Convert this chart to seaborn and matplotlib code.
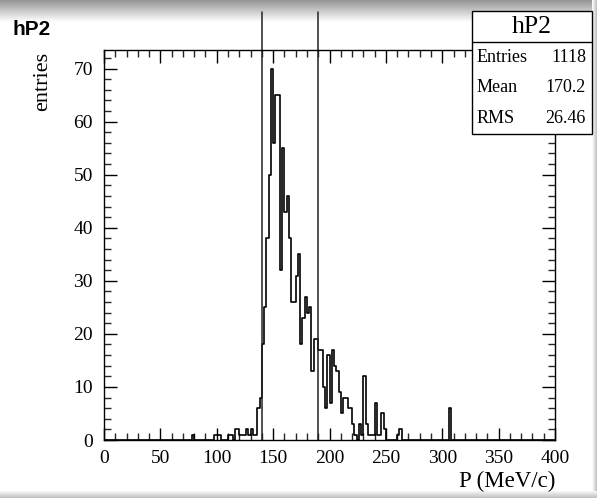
import numpy as np
import pandas as pd
import matplotlib
matplotlib.use("Agg")
import matplotlib.pyplot as plt
from matplotlib.patches import Rectangle
from matplotlib.lines import Line2D
from matplotlib.ticker import MultipleLocator
import seaborn as sns

# Momentum histogram hP2: 200 bins of 2 MeV/c on [0, 400); lower edges of the filled bins and their counts
bin_low = [78, 98, 100, 102, 110, 112, 116, 118, 120, 122, 124, 126, 128, 130, 132, 134,
           136, 138, 140, 142, 144, 146, 148, 150, 152, 154, 156, 158, 160, 162, 164, 166,
           168, 170, 172, 174, 176, 178, 180, 182, 184, 186, 188, 190, 192, 194, 196, 198,
           200, 202, 204, 206, 208, 210, 212, 214, 216, 218, 220, 222, 226, 228, 230, 232,
           234, 236, 238, 240, 242, 244, 246, 248, 260, 262, 306]
counts = [1, 1, 1, 1, 1, 1, 2, 2, 1, 1, 1, 2, 1, 2, 1, 1,
          6, 8, 18, 25, 38, 50, 70, 56, 65, 65, 32, 55, 43, 46, 38, 26,
          26, 31, 35, 18, 23, 27, 24, 25, 13, 19, 19, 17, 17, 10, 6, 16,
          7, 17, 14, 13, 9, 5, 8, 8, 6, 6, 3, 1, 3, 1, 12, 3,
          1, 1, 1, 7, 1, 1, 5, 2, 1, 2, 6]
bin_width = 2.0
cut_values = [140, 190]

hist_name = "hP2"
stat_names = ["Entries", "Mean", "RMS"]
stat_values = ["1118", "170.2", "26.46"]

x_title = "P (MeV/c)"
y_title = "entries"

sns.set_theme(style="white")
plt.rcParams["font.family"] = ["Liberation Serif", "DejaVu Serif"]

W, H = 597, 498
fig = plt.figure(figsize=(W / 100, H / 100), dpi=100)
fig.patch.set_facecolor("white")


def fx(px):
    return px / W


def fy(py):
    return 1 - py / H


# window-like shaded band along the top edge
band = fig.add_axes([0, fy(22), 1, 22 / H])
grad = np.linspace(0.58, 1.0, 64)[:, None]
band.imshow(grad, aspect="auto", cmap="gray", vmin=0, vmax=1, extent=[0, 1, 0, 1])
band.set_axis_off()

# thin shading on the right and bottom borders
side = fig.add_axes([fx(592), 0, 5 / W, 1])
side.imshow(np.linspace(1.0, 0.75, 16)[None, :], aspect="auto", cmap="gray", vmin=0, vmax=1)
side.set_axis_off()
foot = fig.add_axes([0, 0, 1, 7 / H])
foot.imshow(np.linspace(1.0, 0.75, 16)[:, None], aspect="auto", cmap="gray", vmin=0, vmax=1)
foot.set_axis_off()

ax = fig.add_axes([fx(104), fy(440), (555 - 104) / W, (440 - 50) / H])
ax.set_facecolor("white")

df = pd.DataFrame({"P": np.array(bin_low, dtype=float) + bin_width / 2,
                   "entries": np.array(counts, dtype=float)})
sns.histplot(data=df, x="P", weights="entries", bins=200, binrange=(0, 400),
             element="step", fill=False, color="black", linewidth=1.2, ax=ax)

ax.set_xlim(0, 400)
ax.set_ylim(0, 73.5)

for c in cut_values:
    ax.add_line(Line2D([c, c], [0, 80.6], color="#222222", linewidth=1.1, clip_on=False))

ax.xaxis.set_major_locator(MultipleLocator(50))
ax.xaxis.set_minor_locator(MultipleLocator(10))
ax.yaxis.set_major_locator(MultipleLocator(10))
ax.yaxis.set_minor_locator(MultipleLocator(2))
ax.tick_params(axis="x", which="major", direction="in", length=9, width=1.0,
               top=True, bottom=True, labelsize=14, pad=7, colors="black")
ax.tick_params(axis="x", which="minor", direction="in", length=4.8, width=1.0,
               top=True, bottom=True)
ax.tick_params(axis="y", which="major", direction="in", length=9.5, width=1.0,
               left=True, right=True, labelsize=14, pad=8, colors="black")
ax.tick_params(axis="y", which="minor", direction="in", length=5, width=1.0,
               left=True, right=True)
for s in ax.spines.values():
    s.set_color("black")
    s.set_linewidth(1.0)

ax.set_xlabel("")
ax.set_ylabel("")
fig.text(fx(555), fy(481), x_title, ha="right", va="center", fontsize=16.5, color="black")
fig.text(fx(43), fy(52), y_title, ha="center", va="top", rotation=90, fontsize=16, color="black")

# histogram name in the top-left corner
fig.text(fx(13), fy(29), hist_name, ha="left", va="center", fontsize=15,
         fontweight="bold", family=["Liberation Sans", "DejaVu Sans"], color="black")

# statistics box
bx0, bx1, by0, by1, bsep = 472, 592, 11, 134, 42
fig.patches.append(Rectangle((fx(bx0), fy(by1)), fx(bx1) - fx(bx0), fy(by0) - fy(by1),
                             transform=fig.transFigure, facecolor="white",
                             edgecolor="black", linewidth=1.0, zorder=5))
fig.add_artist(Line2D([fx(bx0), fx(bx1)], [fy(bsep), fy(bsep)], transform=fig.transFigure,
                      color="black", linewidth=1.0, zorder=6))
fig.text(fx((bx0 + bx1) / 2), fy(27), hist_name, ha="center", va="center",
         fontsize=18.5, color="black", zorder=7)
for i, (name, val) in enumerate(zip(stat_names, stat_values)):
    yy = 58 + i * 30
    fig.text(fx(477), fy(yy), name, ha="left", va="center", fontsize=13, color="black", zorder=7)
    fig.text(fx(586), fy(yy), val, ha="right", va="center", fontsize=13, color="black", zorder=7)

fig.savefig("out.png", dpi=100)
